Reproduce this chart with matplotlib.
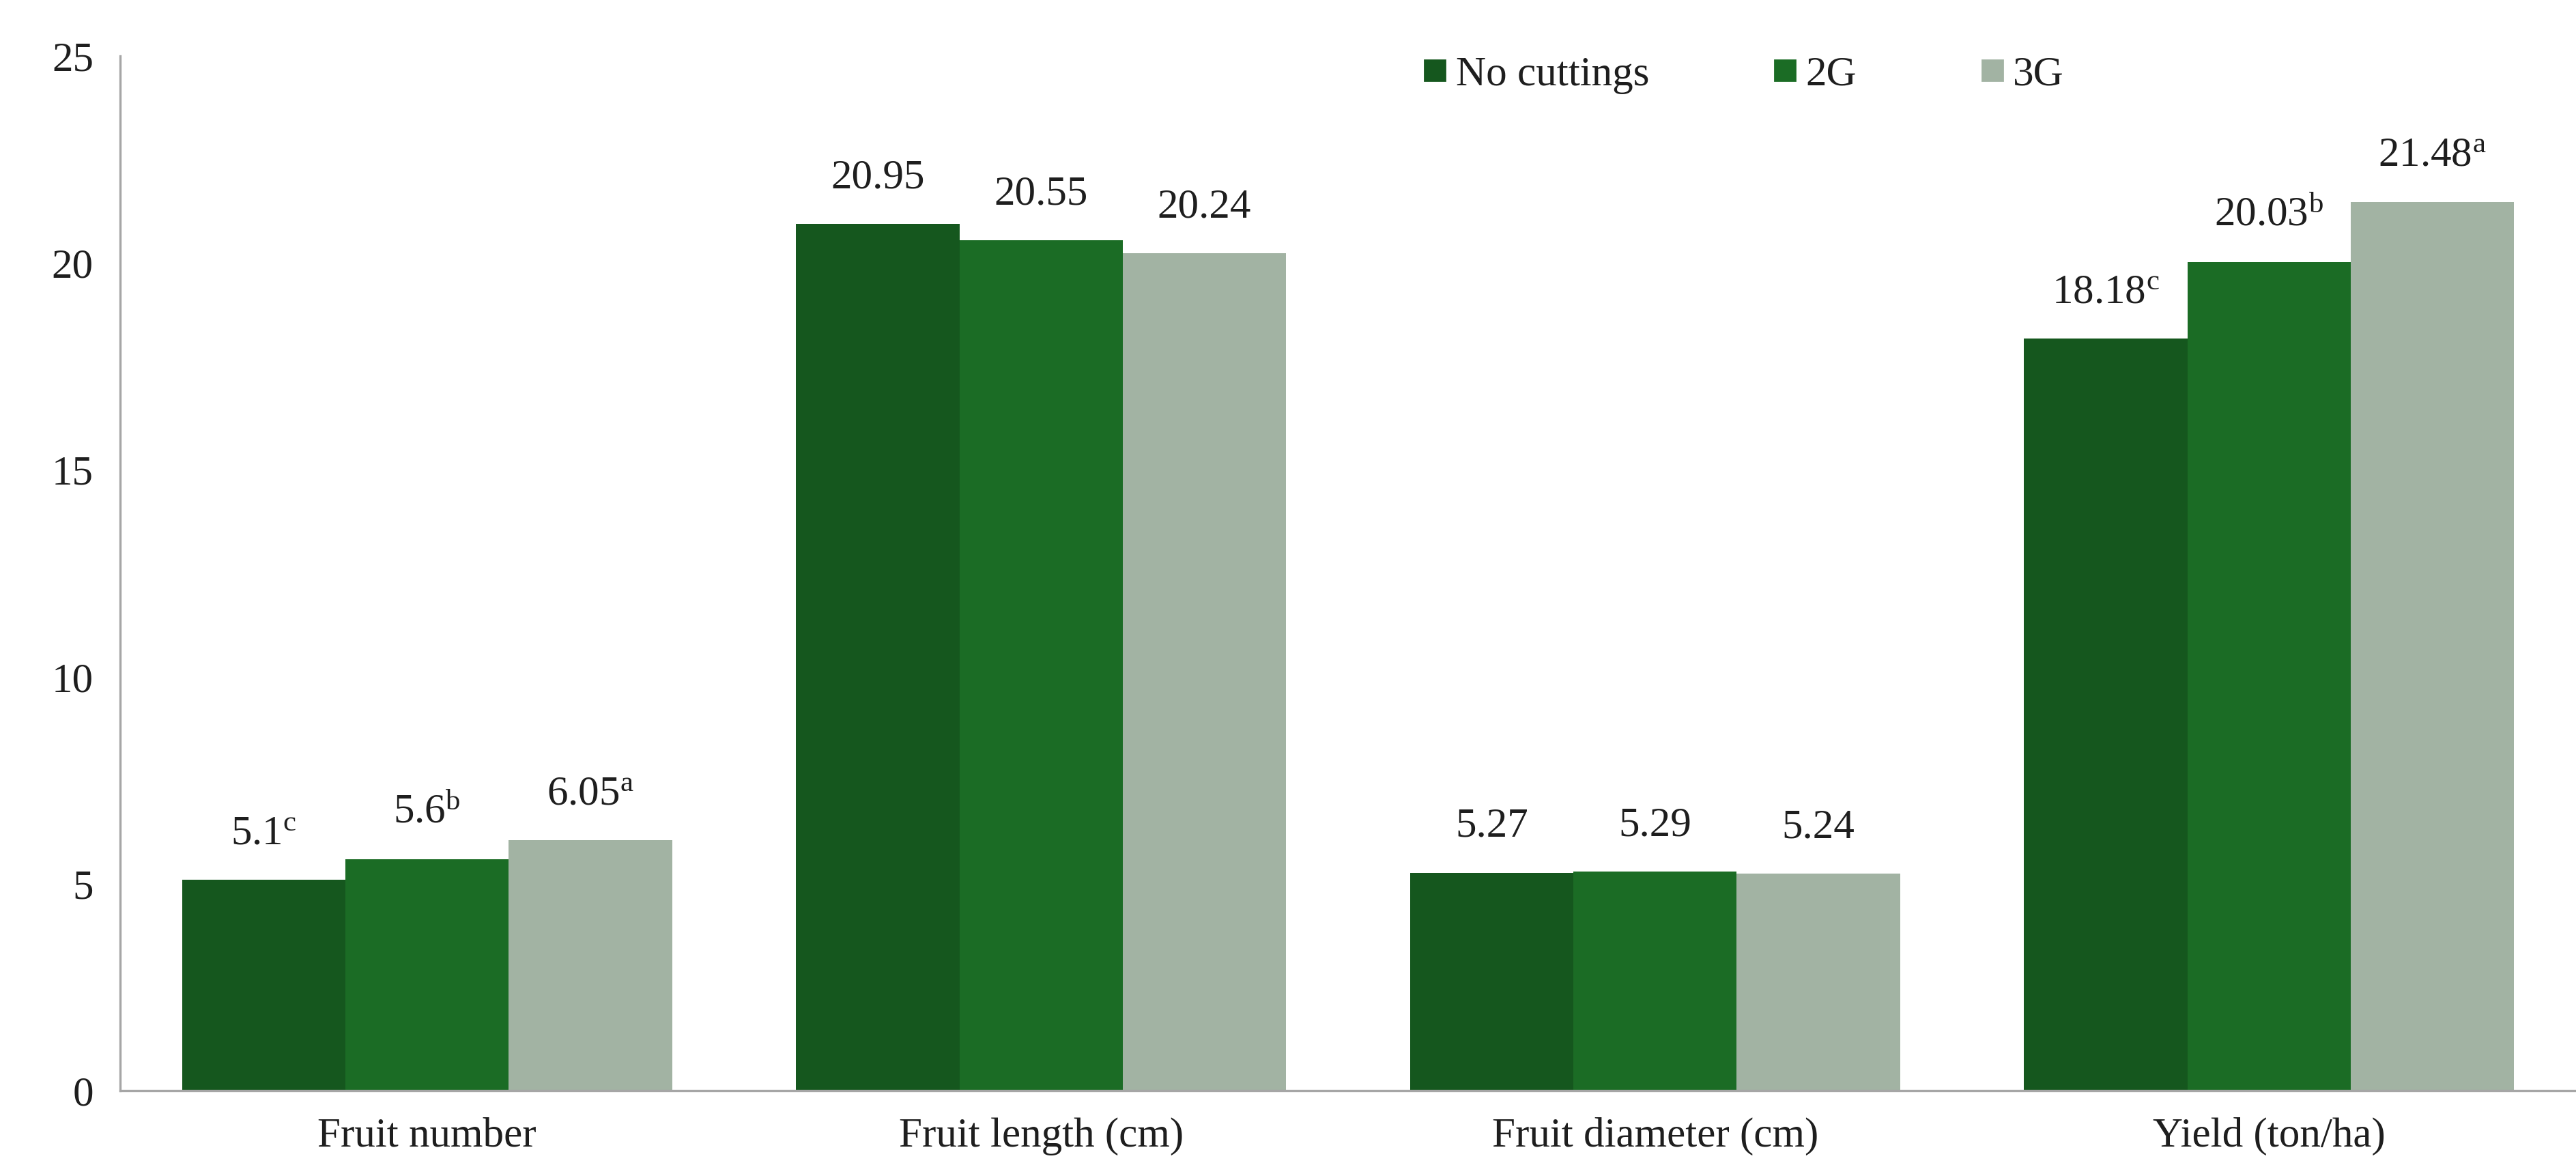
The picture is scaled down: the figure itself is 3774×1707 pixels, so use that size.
import numpy as np
import matplotlib.pyplot as plt
from matplotlib.lines import Line2D

# data
categories = ["Fruit number", "Fruit length (cm)", "Fruit diameter (cm)", "Yield (ton/ha)"]
series_names = ["No cuttings", "2G", "3G"]
no_cuttings = [5.1, 20.95, 5.27, 18.18]
g2 = [5.6, 20.55, 5.29, 20.03]
g3 = [6.05, 20.24, 5.24, 21.48]
letters_no_cuttings = ["c", "", "", "c"]
letters_g2 = ["b", "", "", "b"]
letters_g3 = ["a", "", "", "a"]
value_text_no_cuttings = ["5.1", "20.95", "5.27", "18.18"]
value_text_g2 = ["5.6", "20.55", "5.29", "20.03"]
value_text_g3 = ["6.05", "20.24", "5.24", "21.48"]

colors = ["#15571E", "#1B6C25", "#A2B3A3"]
text_color = "#1E1E1E"


def main() -> None:
    plt.rcParams["font.family"] = ["Liberation Serif", "DejaVu Serif"]
    plt.rcParams["mathtext.fontset"] = "custom"
    plt.rcParams["mathtext.rm"] = "Liberation Serif"
    plt.rcParams["mathtext.it"] = "Liberation Serif:italic"
    plt.rcParams["font.size"] = 22

    fig = plt.figure(figsize=(18.87, 8.535), dpi=200)
    ax = fig.add_axes([0.0466, 0.0638, 0.9534, 0.888])

    x = np.arange(len(categories))
    width = 0.266
    all_vals = [no_cuttings, g2, g3]
    all_letters = [letters_no_cuttings, letters_g2, letters_g3]
    all_texts = [value_text_no_cuttings, value_text_g2, value_text_g3]

    for i, (vals, name) in enumerate(zip(all_vals, series_names)):
        pos = x + (i - 1) * width
        ax.bar(pos, vals, width, color=colors[i], label=name, zorder=2)
        for xp, v, t, let in zip(pos, vals, all_texts[i], all_letters[i]):
            label = t if not let else t + r"$^{\mathrm{" + let + "}}$"
            ax.annotate(label, (xp, v), xytext=(0, 19), textcoords="offset points",
                        ha="center", va="baseline", color=text_color, fontsize=22)

    ax.set_xlim(-0.5, 3.5)
    ax.set_ylim(0, 25)
    ax.set_yticks(np.arange(0, 26, 5))
    ax.set_xticks(x)
    ax.set_xticklabels(categories)

    for s in ["top", "right"]:
        ax.spines[s].set_visible(False)
    for s in ["left", "bottom"]:
        ax.spines[s].set_color("#A6A6A6")
        ax.spines[s].set_linewidth(1.2)
    ax.tick_params(axis="both", length=0, colors=text_color, labelsize=22)
    ax.tick_params(axis="y", pad=14)
    ax.tick_params(axis="x", pad=14)

    handles = [Line2D([], [], linestyle="none", marker="s", markersize=11,
                      markerfacecolor=c, markeredgecolor=c) for c in colors]
    fig.legend(handles, series_names, loc="center left",
               bbox_to_anchor=(0.553, 0.9356), ncol=3, frameon=False,
               handlelength=0.5, handletextpad=0.25, columnspacing=3.0,
               borderpad=0, borderaxespad=0, fontsize=22, labelcolor=text_color)

    fig.savefig("out.png", dpi=200)


if __name__ == "__main__":
    main()
